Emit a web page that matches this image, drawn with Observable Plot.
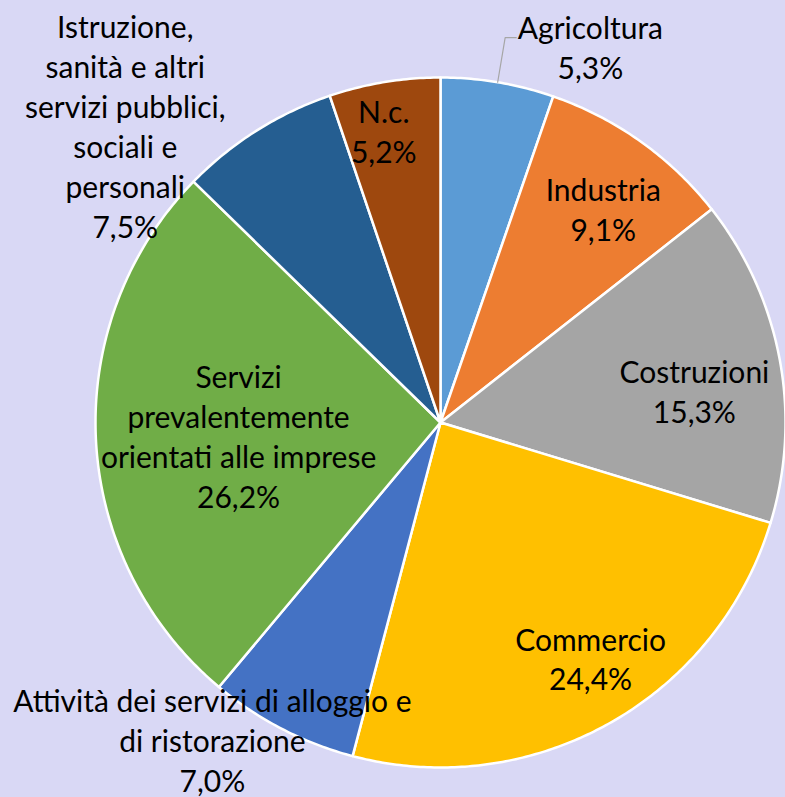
<!DOCTYPE html>
<html><head><meta charset="utf-8">
<script src="https://cdn.jsdelivr.net/npm/d3@7"></script>
<script src="https://cdn.jsdelivr.net/npm/@observablehq/plot@0.6"></script>
<style>
html,body{margin:0;padding:0;background:#D9D8F5;}
#chart svg{display:block;background:#D9D8F5;}
</style></head><body><div id="chart"></div>
<script>
// Data
const categories = ["Agricoltura","Industria","Costruzioni","Commercio",
  "Attività dei servizi di alloggio e di ristorazione",
  "Servizi prevalentemente orientati alle imprese",
  "Istruzione, sanità e altri servizi pubblici, sociali e personali","N.c."];
const labelText = ["Agricoltura","Industria","Costruzioni","Commercio",
  "Attività dei servizi di alloggio e\ndi ristorazione",
  "Servizi\nprevalentemente\norientati alle imprese",
  "Istruzione,\nsanità e altri\nservizi pubblici,\nsociali e\npersonali","N.c."];
const values = [5.3, 9.1, 15.3, 24.4, 7.0, 26.2, 7.5, 5.2];
const colors = ["#5B9BD5","#ED7D31","#A5A5A5","#FFC000","#4472C4","#70AD47","#255E91","#9E480E"];
// label placement: radius (fraction of pie radius) and angular nudge (degrees) from slice middle
const labelRadius = [1.168, 0.774, 0.741, 0.815, 1.137, 0.587, 1.251, 0.857];
const labelNudge = [12.3, 2.1, 3.9, -3.1, 8.2, -1.5, -14.7, -1.7];
const leaderSlices = ["Agricoltura"];

const W = 785, H = 797, CX = 440, CY = 422, R = 345;
const toXY = (a, r) => [r * Math.sin(a), -r * Math.cos(a)];
const arcs = d3.pie().sort(null).value(d => d)(values);

// slice outlines (center + arc points), computed from the pie layout
const slicePts = arcs.flatMap((p, i) => {
  const n = Math.max(8, Math.ceil((p.endAngle - p.startAngle) / 0.01));
  const pts = [{cat: categories[i], x: 0, y: 0}];
  for (let k = 0; k <= n; k++) {
    const [x, y] = toXY(p.startAngle + (p.endAngle - p.startAngle) * k / n, 1);
    pts.push({cat: categories[i], x, y});
  }
  pts.push({cat: categories[i], x: 0, y: 0});
  return pts;
});

const labels = arcs.map((p, i) => {
  const mid = (p.startAngle + p.endAngle) / 2 + labelNudge[i] * Math.PI / 180;
  const [x, y] = toXY(mid, labelRadius[i]);
  return {x, y, text: labelText[i] + "\n" + values[i].toFixed(1).replace(".", ",") + "%"};
});

const leaderPts = arcs.filter((p, i) => leaderSlices.includes(categories[i])).flatMap((p, i) => {
  const mid = (p.startAngle + p.endAngle) / 2;
  const a = toXY(mid, 1.0), b = toXY(mid, 1.131);
  return [{x: a[0], y: a[1]}, {x: b[0], y: b[1]}, {x: b[0] + 0.032, y: b[1]}];
});

const chart = Plot.plot({
  width: W, height: H,
  margin: 0,
  style: {background: "#D9D8F5"},
  x: {domain: [-CX / R, (W - CX) / R], range: [0, W], axis: null},
  y: {domain: [-CY / R, (H - CY) / R], range: [0, H], axis: null},
  color: {domain: categories, range: colors},
  marks: [
    Plot.line(slicePts, {x: "x", y: "y", z: "cat", fill: "cat", stroke: "white", strokeWidth: 2.5, strokeLinejoin: "round"}),
    Plot.line(leaderPts, {x: "x", y: "y", stroke: "#A6A6A6", strokeWidth: 1.2}),
    Plot.text(labels, {x: "x", y: "y", text: "text", fontSize: 30, lineHeight: 1.33, dy: -2.5, fill: "black", fontFamily: "Lato"})
  ]
});
document.getElementById("chart").appendChild(chart);
</script></body></html>
